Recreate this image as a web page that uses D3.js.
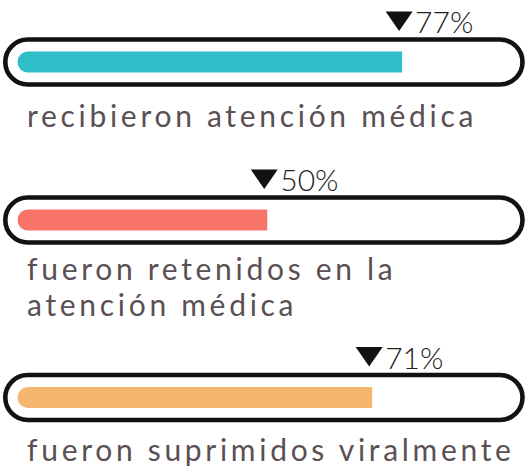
<!DOCTYPE html>
<html><head><meta charset="utf-8">
<script src="https://cdn.jsdelivr.net/npm/d3@7"></script>
<style>html,body{margin:0;padding:0;background:#fff;}svg{display:block;}</style>
</head><body>
<svg id="chart" width="530" height="472"></svg>
<script>
const labels = [["recibieron atención médica"], ["fueron retenidos en la", "atención médica"], ["fueron suprimidos viralmente"]];
const values = [77, 50, 71];
const valueLabels = ["77%", "50%", "71%"];
const colors = ["#2fbfc8", "#f87468", "#f5b76d"];

const svg = d3.select("#chart");
const x = d3.scaleLinear().domain([0, 100]).range([17.5, 517]);
const rowTops = [39.5, 197.5, 375];      // outer pill stroke-center top
const labelOffsets = [87.5, 82.5, 86];   // first label baseline below pill top
const pillH = 45, fillH = 21;

const rows = svg.selectAll("g.row").data(values).join("g").attr("class", "row")
  .attr("transform", (d, i) => `translate(0,${rowTops[i]})`);

rows.append("rect").attr("x", 5.3).attr("y", 0).attr("width", 517.2).attr("height", pillH)
  .attr("rx", pillH / 2).attr("fill", "#fff").attr("stroke", "#121212").attr("stroke-width", 4.6);

rows.append("path").attr("fill", (d, i) => colors[i])
  .attr("d", d => {
    const x0 = x(0), x1 = x(d), y0 = (pillH - fillH) / 2, r = fillH / 2;
    return `M${x0 + r},${y0} L${x1},${y0} L${x1},${y0 + fillH} L${x0 + r},${y0 + fillH} A${r},${r} 0 0 1 ${x0 + r},${y0} Z`;
  });

rows.append("path").attr("fill", "#121212")
  .attr("d", d => {
    const cx = x(d) - 3;
    return `M${cx - 13.5},-28 L${cx + 13.5},-28 L${cx},-8.5 Z`;
  });

rows.append("text").attr("x", d => x(d) + 13).attr("y", -6.3)
  .attr("font-family", "Lato").attr("font-weight", 300).attr("font-size", 30)
  .attr("fill", "#222").text((d, i) => valueLabels[i]);

rows.each(function(d, i) {
  const g = d3.select(this);
  labels[i].forEach((line, j) => {
    g.append("text").attr("x", 27).attr("y", labelOffsets[i] + j * 36)
      .attr("font-family", "Lato").attr("font-size", 30).attr("letter-spacing", 3.7)
      .attr("fill", "#5a5053").text(line);
  });
});
</script>
</body></html>
